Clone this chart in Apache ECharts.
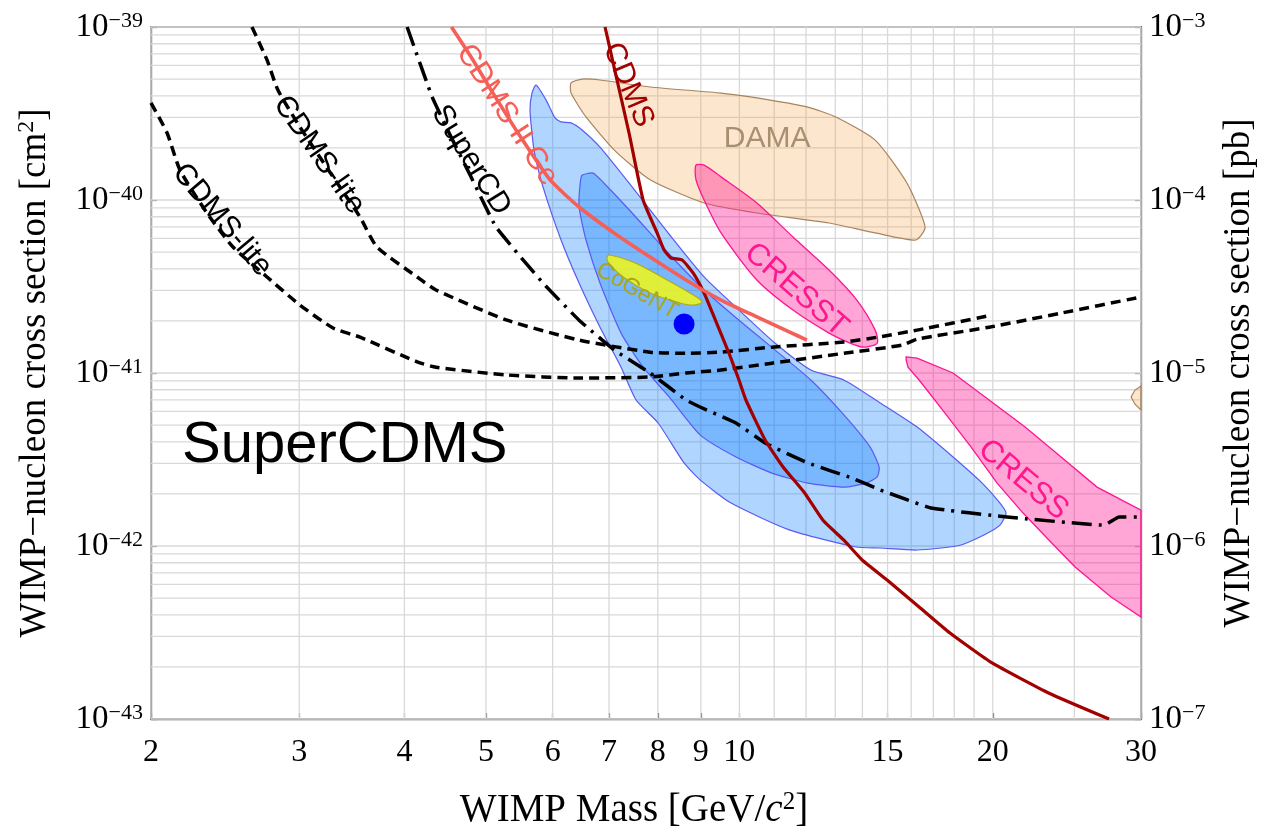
<!DOCTYPE html>
<html><head><meta charset="utf-8">
<script src="https://cdn.jsdelivr.net/npm/echarts@6/dist/echarts.min.js"></script>
<style>html,body{margin:0;padding:0;background:#fff}#c{width:1266px;height:834px}</style>
</head><body><div id="c"></div>
<script>
// ---------- axis ticks / grid ----------
const xTickValues = [2, 3, 4, 5, 6, 7, 8, 9, 10, 15, 20, 30];
const xGridValues = [2, 3, 4, 5, 6, 7, 8, 9, 10, 11, 12, 13, 14, 15, 16, 17, 18, 19, 20, 25, 30];
const yGridMantissas = [1, 2, 3, 4, 5, 6, 7, 8, 9];
const yGridDecades = [-43, -42, -41, -40];   // cm^2 decades

// ---------- curves: [mass GeV, cross section cm^2] ----------
const cdmsLiteLow = [[2.0,3.64e-40],[2.09,2.44e-40],[2.165,1.49e-40],[2.331,8.41e-41],[2.503,5.35e-41],[2.747,3.59e-41],[3.006,2.47e-41],[3.291,1.82e-41],[3.543,1.61e-41],[4.142,1.16e-41],[4.362,1.08e-41],[5.297,9.74e-42],[6.45,9.36e-42],[7.834,9.48e-42],[8.644,1.0e-41],[9.511,1.04e-41],[10.93,1.14e-41],[13.31,1.30e-41],[15.61,1.45e-41],[16.26,1.57e-41],[19.80,1.84e-41],[24.11,2.22e-41],[30,2.75e-41]];
const cdmsLiteHigh = [[2.636,1e-39],[2.747,6.45e-40],[2.830,4.32e-40],[3.006,2.64e-40],[3.291,1.36e-40],[3.543,7.97e-41],[3.711,5.35e-41],[4.142,3.59e-41],[4.362,3.02e-41],[5.297,2.02e-41],[6.45,1.55e-41],[7.834,1.32e-41],[8.644,1.30e-41],[9.511,1.32e-41],[10.93,1.41e-41],[13.31,1.51e-41],[14.58,1.61e-41],[16.26,1.77e-41],[19.96,2.16e-41]];
const superCdms = [[4.03,1e-39],[4.315,3.94e-40],[4.531,2.38e-40],[4.786,1.40e-40],[5.139,6.98e-41],[5.844,3.31e-41],[6.45,2.02e-41],[7.098,1.36e-41],[7.834,1.0e-41],[8.644,6.98e-42],[8.981,6.36e-42],[9.908,5.14e-42],[10.73,3.94e-42],[12.06,3.02e-42],[13.61,2.47e-42],[14.70,2.11e-42],[16.89,1.66e-42],[20.80,1.47e-42],[27.12,1.32e-42],[28.25,1.47e-42],[30,1.47e-42]];
const cdms = [[6.925,1e-39],[7.098,5.87e-40],[7.395,2.44e-40],[7.685,1e-40],[7.985,6.45e-41],[8.139,5.14e-41],[8.296,4.62e-41],[8.55,4.50e-41],[8.811,3.79e-41],[9.08,2.90e-41],[9.331,2.11e-41],[9.721,1.30e-41],[9.989,9.11e-42],[10.18,6.98e-42],[10.73,4.10e-42],[11.27,2.86e-42],[11.96,2.02e-42],[12.57,1.41e-42],[13.31,1.08e-42],[13.99,8.30e-43],[14.98,6.36e-43],[16.35,4.44e-43],[17.79,3.14e-43],[19.96,2.11e-43],[23.33,1.41e-43],[27.49,1e-43]];
const cdmsIIGe = [[4.55,1e-39],[4.80,6.71e-40],[5.097,4.15e-40],[5.458,2.44e-40],[5.957,1.31e-40],[6.45,9.11e-41],[7.098,6.45e-41],[7.834,4.68e-41],[8.644,3.45e-41],[9.511,2.64e-41],[10.49,2.11e-41],[11.46,1.73e-41],[12.03,1.55e-41]];

// ---------- regions (closed contours) ----------
const dama = [[6.31,4.75e-40],[6.503,5.0e-40],[6.83,4.94e-40],[7.834,4.50e-40],[9.511,4.15e-40],[10.49,3.89e-40],[12.03,3.45e-40],[13.02,3.02e-40],[14.5,2.22e-40],[15.82,1.25e-40],[16.62,6.98e-41],[16.21,5.87e-41],[14.5,6.45e-41],[12.78,7.36e-41],[10.49,8.41e-41],[9.08,9.61e-41],[7.834,1.31e-40],[7.098,1.95e-40],[6.574,3.02e-40],[6.31,4.15e-40]];
const damaEdge = [[30,8.41e-42],[29.51,7.97e-42],[29.2,7.27e-42],[29.51,6.6e-42],[30,6.11e-42]];
const cresstHigh = [[8.88,1.59e-40],[9.08,1.59e-40],[9.511,1.36e-40],[10.49,9.61e-41],[11.58,6.11e-41],[12.78,3.94e-41],[13.79,2.64e-41],[14.5,1.77e-41],[14.58,1.49e-41],[14.07,1.41e-41],[13.53,1.49e-41],[12.78,1.70e-41],[11.58,2.31e-41],[10.49,3.45e-41],[9.511,6.45e-41],[9.08,1e-40],[8.88,1.31e-40]];
const cresstLow = [[15.78,1.24e-41],[16.26,1.22e-41],[17.94,1.0e-41],[19.8,6.98e-42],[21.85,4.87e-42],[24.11,3.27e-42],[26.6,2.19e-42],[30,1.61e-42],[30,3.89e-43],[27.64,5.07e-43],[25.05,7.56e-43],[23.33,1.08e-42],[21.73,1.55e-42],[20.24,2.31e-42],[18.85,3.73e-42],[17.55,5.87e-42],[16.35,9.11e-42],[15.86,1.08e-41],[15.78,1.19e-41]];
const siOuter = [[5.733,4.62e-40],[5.892,3.79e-40],[6.039,2.98e-40],[6.14,2.83e-40],[6.31,2.79e-40],[6.503,2.54e-40],[6.83,2.02e-40],[7.457,1.19e-40],[8.229,6.45e-41],[9.08,3.59e-41],[9.989,2.31e-41],[11.02,1.49e-41],[12.16,1.04e-41],[13.31,9.11e-42],[14.70,6.71e-42],[16.26,4.87e-42],[17.94,3.27e-42],[19.43,2.31e-42],[20.40,1.77e-42],[20.74,1.55e-42],[20.40,1.32e-42],[19.6,1.17e-42],[18.29,1.01e-42],[16.26,9.48e-43],[14.70,9.74e-43],[13.75,9.87e-43],[11.46,1.24e-42],[9.775,1.77e-42],[8.981,2.41e-42],[8.596,3.02e-42],[8.007,5.14e-42],[7.538,6.98e-42],[7.235,1.08e-41],[6.83,1.84e-41],[6.45,3.31e-41],[6.14,5.87e-41],[5.844,1.19e-40],[5.702,1.95e-40],[5.64,3.31e-40],[5.671,4.15e-40]];
const siInner = [[6.503,1.39e-40],[6.70,1.43e-40],[6.906,1.25e-40],[7.457,8.41e-41],[8.229,4.94e-41],[9.08,3.02e-41],[9.989,2.02e-41],[11.02,1.36e-41],[12.16,9.11e-42],[13.31,5.72e-42],[14.30,3.73e-42],[14.66,2.86e-42],[14.58,2.51e-42],[14.14,2.31e-42],[13.31,2.19e-42],[12.06,2.31e-42],[10.93,2.64e-42],[9.908,3.27e-42],[8.981,4.39e-42],[8.252,7.27e-42],[7.685,1.08e-41],[7.235,1.70e-41],[6.83,3.31e-41],[6.574,5.87e-41],[6.45,9.11e-41],[6.467,1.22e-40]];
const cogent = [[6.963,4.68e-41],[7.02,4.81e-41],[7.477,4.38e-41],[8.206,3.45e-41],[8.811,2.83e-41],[9.03,2.57e-41],[8.811,2.47e-41],[8.503,2.54e-41],[7.834,2.90e-41],[7.275,3.59e-41],[6.982,4.38e-41]];
const bestFit = [[8.596,1.92e-41]];

// ---------- text annotations ----------
const annoTexts = ['CDMS-lite','CDMS-lite','SuperCD','CDMS II Ge','CDMS','DAMA','CRESST','CRESS','CoGeNT','SuperCDMS'];
const annoAnchors = [[2.429,7.66e-41],[3.167,1.82e-40],[4.80,1.70e-40],[5.297,3.10e-40],[7.375,4.62e-40],[10.79,2.25e-40],[11.68,3.02e-41],[21.73,2.41e-42],[7.557,2.98e-41],[2.177,3.78e-42]];

// ---------- units: the chart's scale works in pb (1 pb = 1e-36 cm^2) ----------
const PB_PER_CM2 = 1e36;
function toPb(arr) { return arr.map(function (p) { return [p[0], p[1] * PB_PER_CM2]; }); }

// ---------- styling ----------
const serif = 'Liberation Serif';
const sans = 'Liberation Sans';
const annoStyles = [
  {rot:-50, color:'#000000', size:30},
  {rot:-55, color:'#000000', size:30},
  {rot:-58, color:'#000000', size:30},
  {rot:-57, color:'#f55f57', size:30},
  {rot:-67, color:'#a30000', size:30},
  {rot:0,   color:'#a88f72', size:30},
  {rot:-41, color:'#ff178e', size:31},
  {rot:-40, color:'#ff178e', size:31},
  {rot:-30, color:'#a8a61e', size:23},
  {rot:0,   color:'#000000', size:58, align:'left'}
];

const chart = echarts.init(document.getElementById('c'));

function expText(e) { return '{b|10}{s|' + (e < 0 ? '\u2212' : '') + Math.abs(e) + '}'; }
const expRich = {
  b: {fontFamily: serif, fontSize: 33, color: '#000', lineHeight: 34},
  s: {fontFamily: serif, fontSize: 22, color: '#000', verticalAlign: 'top', lineHeight: 11}
};

function polygon(name, pts, fill, stroke, lw, z, smooth) {
  const pb = toPb(pts);
  return {
    type: 'custom', name: name, z: z, silent: true, coordinateSystem: 'cartesian2d',
    data: [pb[0]],
    renderItem: function (params, api) {
      return {
        type: 'polygon',
        shape: {points: pb.map(function (p) { return api.coord(p); }), smooth: smooth || 0},
        style: {fill: fill, stroke: stroke, lineWidth: lw}
      };
    }
  };
}
function curve(name, pts, color, width, type, z, smooth) {
  return {
    type: 'line', name: name, data: toPb(pts), showSymbol: false, symbol: 'none', silent: true,
    z: z, smooth: smooth || false, clip: true,
    lineStyle: {color: color, width: width, type: type, cap: 'butt', join: 'round'}
  };
}

const yGridValues = [];
yGridDecades.forEach(function (d) { yGridMantissas.forEach(function (m) { yGridValues.push(m * Math.pow(10, d) * PB_PER_CM2); }); });
yGridValues.push(1e-39 * PB_PER_CM2);
const yTop = 1e-3, yBottom = 1e-7;

const gridSeries = {
  type: 'custom', name: 'grid', z: 1, silent: true, data: [[2, 1e-5]],
  renderItem: function (params, api) {
    const children = [];
    xGridValues.forEach(function (xv) {
      const a = api.coord([xv, yTop]), b = api.coord([xv, yBottom]);
      children.push({type: 'line', shape: {x1: a[0], y1: a[1], x2: b[0], y2: b[1]}, style: {stroke: '#d9d9d9', lineWidth: 1.3}});
    });
    yGridValues.forEach(function (yv) {
      const a = api.coord([2, yv]), b = api.coord([30, yv]);
      children.push({type: 'line', shape: {x1: a[0], y1: a[1], x2: b[0], y2: b[1]}, style: {stroke: '#d9d9d9', lineWidth: 1.3}});
    });
    return {type: 'group', children: children};
  }
};

const annoSeries = {
  type: 'custom', name: 'labels', z: 30, silent: true, data: toPb(annoAnchors),
  renderItem: function (params, api) {
    const i = params.dataIndex;
    const st = annoStyles[i];
    const p = api.coord([api.value(0), api.value(1)]);
    return {
      type: 'text', x: p[0], y: p[1], rotation: st.rot * Math.PI / 180,
      style: {text: annoTexts[i], fill: st.color, fontSize: st.size, fontFamily: sans,
              align: st.align || 'center', verticalAlign: 'middle'}
    };
  }
};

const dashed = [10, 6];
const dashDot = [20, 7, 3, 7];

const option = {
  animation: false,
  backgroundColor: '#ffffff',
  grid: {left: 151, right: 125, top: 27, bottom: 115, show: true, borderColor: '#555', borderWidth: 1.3,
         backgroundColor: 'transparent', containLabel: false, outerBoundsMode: 'none'},
  xAxis: {
    type: 'log', logBase: 10, min: 2, max: 30,
    name: '{n|WIMP Mass [GeV/}{i|c}{s|2}{n|]}',
    nameLocation: 'middle', nameGap: 71,
    nameTextStyle: {
      fontFamily: serif, fontSize: 39, color: '#000', padding: [0, 24, 0, 0],
      rich: {
        n: {fontFamily: serif, fontSize: 39, color: '#000', lineHeight: 42},
        i: {fontFamily: serif, fontSize: 39, color: '#000', fontStyle: 'italic', lineHeight: 42},
        s: {fontFamily: serif, fontSize: 25, color: '#000', verticalAlign: 'top', lineHeight: 18}
      }
    },
    axisLine: {show: true, lineStyle: {color: '#555', width: 1.3}},
    axisTick: {show: true, inside: true, length: 6, customValues: xTickValues, lineStyle: {color: '#555', width: 1.2}},
    axisLabel: {customValues: xTickValues, fontFamily: serif, fontSize: 32, color: '#000', margin: 18,
                formatter: function (v) { return String(Math.round(v)); }},
    splitLine: {show: false}, minorTick: {show: false}
  },
  yAxis: [
    {
      type: 'log', logBase: 10, min: yBottom, max: yTop, position: 'left',
      name: '{n|WIMP\u2212nucleon cross section [cm}{s|2}{n|]}',
      nameLocation: 'middle', nameGap: 96,
      nameTextStyle: {
        fontFamily: serif, fontSize: 37, color: '#000',
        rich: {
          n: {fontFamily: serif, fontSize: 37, color: '#000', lineHeight: 40},
          s: {fontFamily: serif, fontSize: 24, color: '#000', verticalAlign: 'top', lineHeight: 18}
        }
      },
      axisLine: {show: true, lineStyle: {color: '#555', width: 1.3}},
      axisTick: {show: true, inside: true, length: 6, lineStyle: {color: '#555', width: 1.2}},
      axisLabel: {formatter: function (v) { return expText(Math.round(Math.log10(v / PB_PER_CM2))); }, rich: expRich, margin: 8},
      splitLine: {show: false}
    },
    {
      type: 'log', logBase: 10, min: yBottom, max: yTop, position: 'right',
      name: 'WIMP\u2212nucleon cross section [pb]',
      nameLocation: 'middle', nameGap: 80,
      nameTextStyle: {fontFamily: serif, fontSize: 37, color: '#000'},
      axisLine: {show: true, lineStyle: {color: '#555', width: 1.3}},
      axisTick: {show: true, inside: true, length: 6, lineStyle: {color: '#555', width: 1.2}},
      axisLabel: {formatter: function (v) { return expText(Math.round(Math.log10(v))); }, rich: expRich, margin: 8},
      splitLine: {show: false}
    }
  ],
  series: [
    gridSeries,
    polygon('DAMA', dama, 'rgba(245,150,50,0.24)', '#a8845e', 1.2, 3, 0.2),
    polygon('DAMA edge', damaEdge, 'rgba(245,150,50,0.24)', '#a8845e', 1.2, 3, 0),
    polygon('CDMS Si 95%', siOuter, 'rgba(0,120,255,0.31)', '#5a5af0', 1.2, 4, 0.2),
    polygon('CDMS Si 68%', siInner, 'rgba(0,120,255,0.31)', '#5a5af0', 1.2, 5, 0.2),
    polygon('CRESST high', cresstHigh, 'rgba(255,20,147,0.38)', '#ff1493', 1.3, 6, 0.25),
    polygon('CRESST low', cresstLow, 'rgba(255,20,147,0.38)', '#ff1493', 1.3, 6, 0),
    polygon('CoGeNT', cogent, 'rgba(232,242,40,0.92)', '#b0aa10', 1.2, 7, 0.35),
    curve('CDMS-lite low', cdmsLiteLow, '#000', 3.5, dashed, 10, 0.2),
    curve('CDMS-lite high', cdmsLiteHigh, '#000', 3.5, dashed, 10, 0.2),
    curve('SuperCDMS', superCdms, '#000', 3.5, dashDot, 10, 0.1),
    curve('CDMS', cdms, '#a30000', 3.2, 'solid', 11, 0.15),
    curve('CDMS II Ge', cdmsIIGe, '#f55f57', 3.6, 'solid', 11, 0.2),
    {type: 'scatter', name: 'best fit', data: toPb(bestFit), symbol: 'circle', symbolSize: 21, z: 20, silent: true,
     itemStyle: {color: '#0000ff', opacity: 1}},
    annoSeries
  ]
};
chart.setOption(option);
</script>
</body></html>
